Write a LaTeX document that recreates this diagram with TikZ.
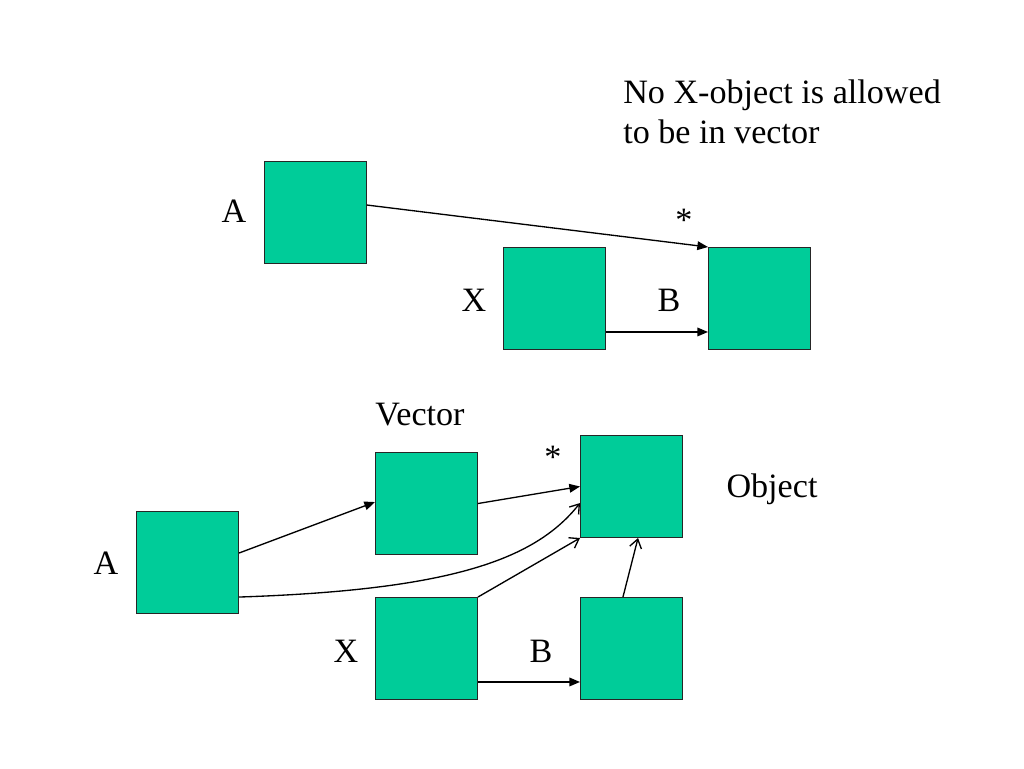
\documentclass[tikz,border=0pt]{standalone}
\usepackage{fontspec}
\setmainfont{Liberation Serif}
\usetikzlibrary{arrows.meta}
\definecolor{boxgreen}{HTML}{00CC99}
\begin{document}
\begin{tikzpicture}[x=0.75pt,y=-0.75pt,
  box/.style={draw=black!85,line width=0.75pt,fill=boxgreen,minimum size=76.5pt,inner sep=0pt},
  lbl/.style={font=\fontsize{25.6}{30}\selectfont,inner sep=0pt},
  conn/.style={line width=1pt},
  fa/.style={conn,-{Triangle[length=8pt,width=6.5pt]}},
  oa/.style={conn,-{Straight Barb[length=6.5pt,width=9pt,line width=1pt]}}]
\useasboundingbox (0,0) rectangle (1024,768);
% top diagram
\node[box] (tA) at (315.5,212.5) {};
\node[box] (tX) at (554.5,298.5) {};
\node[box] (tB) at (759.5,298.5) {};
\node[lbl] (ltA) at (234,211) {A};
\node[lbl] (ltX) at (474,300) {X};
\node[lbl] (ltB) at (669,300) {B};
\node[lbl] (lts) at (684,220) {*};
\node[lbl,anchor=west,align=left] (note) at (623,112) {No X-object is allowed\\to be in vector};
\draw[fa] ([yshift=5.6pt]tA.east) -- (tB.north west);
\draw[fa] ([yshift=-25.1pt]tX.east) -- ([yshift=-25.1pt]tB.west);
% bottom diagram
\node[box] (bV) at (426.5,503.5) {};
\node[box] (bO) at (631.5,486.5) {};
\node[box] (bA) at (187.5,562.5) {};
\node[box] (bX) at (426.5,648.5) {};
\node[box] (bB) at (631.5,648.5) {};
\node[lbl] (lV) at (420,415) {Vector};
\node[lbl] (lbs) at (553,457) {*};
\node[lbl] (lO) at (772,489) {Object};
\node[lbl] (lbA) at (106,563) {A};
\node[lbl] (lbX) at (346,651) {X};
\node[lbl] (lbB) at (541,651) {B};
\draw[fa] ([yshift=7.1pt]bA.east) -- ([yshift=1.1pt]bV.west);
\draw[fa] (bV.east) -- (bO.west);
\draw[oa] ([yshift=-25.9pt]bA.east) .. controls (450,590) and (535,560) .. ([yshift=-12.4pt]bO.west);
\draw[oa] (bX.north east) -- (bO.south west);
\draw[oa] ([xshift=-6.4pt]bB.north) -- ([xshift=4.9pt]bO.south);
\draw[fa] ([yshift=-25.1pt]bX.east) -- ([yshift=-25.1pt]bB.west);
\end{tikzpicture}
\end{document}
